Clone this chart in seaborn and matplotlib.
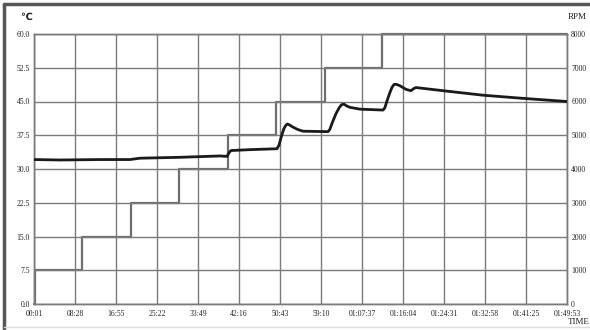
import numpy as np
import pandas as pd
import matplotlib.pyplot as plt
import matplotlib.lines as mlines
import seaborn as sns

# ------------------------------------------------------------------------------
# Data (time in seconds)
# ------------------------------------------------------------------------------
temp_time = [1, 323, 817, 1188, 1312, 1806, 2301, 2388, 2412, 2437, 2672, 3006,
             3031, 3060, 3090, 3115, 3135, 3160, 3204, 3260, 3328, 3637, 3660,
             3690, 3736, 3775, 3805, 3835, 3870, 3909, 4032, 4317, 4340, 4370,
             4403, 4430, 4455, 4485, 4527, 4601, 4663, 4700, 4725, 5059, 5553,
             6048, 6592]
temp_value = [32.1, 32.0, 32.1, 32.1, 32.4, 32.6, 32.9, 32.8, 33.6, 34.1, 34.3, 34.5,
              35.3, 37.2, 38.9, 39.7, 40.0, 39.8, 39.3, 38.8, 38.4, 38.3, 38.8,
              40.3, 42.3, 43.6, 44.3, 44.4, 44.0, 43.7, 43.3, 43.1, 43.6, 45.3,
              47.0, 48.2, 48.8, 48.8, 48.5, 47.7, 47.4, 47.9, 48.1, 47.4, 46.4,
              45.7, 45.0]

rpm_time = [1, 10, 600, 1200, 1800, 2400, 3000, 3600, 4310, 6592]
rpm_value = [0, 1000, 2000, 3000, 4000, 5000, 6000, 7000, 8000, 8000]

tick_labels = ["00:01", "08:28", "16:55", "25:22", "33:49", "42:16", "50:43",
               "59:10", "01:07:37", "01:16:04", "01:24:31", "01:32:58",
               "01:41:25", "01:49:53"]
temp_ticks = [0.0, 7.5, 15.0, 22.5, 30.0, 37.5, 45.0, 52.5, 60.0]
rpm_ticks = [0, 1000, 2000, 3000, 4000, 5000, 6000, 7000, 8000]

temp_df = pd.DataFrame({"time": temp_time, "temp": temp_value})
rpm_df = pd.DataFrame({"time": rpm_time, "rpm": rpm_value})

# ------------------------------------------------------------------------------
# Plot
# ------------------------------------------------------------------------------
sns.set_style("white")
plt.rcParams['font.family'] = ['Liberation Serif', 'DejaVu Sans']

fig = plt.figure(figsize=(5.9, 3.3), dpi=100)
ax = fig.add_axes([34 / 590, 26 / 330, 533 / 590, 270 / 330])
ax2 = ax.twinx()

grid_col = "#7a7a7a"
t0, t1 = 1, 6593
x_ticks = np.linspace(t0, t1, len(tick_labels))

ax.set_xlim(t0, t1)
ax.set_ylim(0, 60)
ax2.set_ylim(0, 8000)

ax.set_xticks(x_ticks)
ax.set_xticklabels(tick_labels)
ax.set_yticks(temp_ticks)
ax.set_yticklabels([f"{v:.1f}" for v in temp_ticks])
ax2.set_yticks(rpm_ticks)
ax2.set_yticklabels([str(v) for v in rpm_ticks])

ax.grid(True, color=grid_col, linewidth=1.0)
ax.set_axisbelow(True)
for a in (ax, ax2):
    for s in a.spines.values():
        s.set_color(grid_col)
        s.set_linewidth(1.0)
    a.tick_params(length=0, labelsize=5.5, colors="#222222", pad=3)
ax.tick_params(axis="x", pad=4)

sns.lineplot(data=rpm_df, x="time", y="rpm", ax=ax2, color="#6e6e6e",
             linewidth=1.6, drawstyle="steps-post", clip_on=False)
sns.lineplot(data=temp_df, x="time", y="temp", ax=ax, color="#1a1a1a",
             linewidth=2.0, zorder=5)
ax.set_zorder(ax2.get_zorder() + 1)
ax.patch.set_visible(False)

ax.set_xlabel("")
ax.set_ylabel("")
ax2.set_ylabel("")

fig.text(20 / 590, 1 - 17 / 330, "℃", fontsize=7, ha="left", va="center",
         family=["DejaVu Sans"], fontweight="bold", color="#222222")
fig.text(568 / 590, 1 - 17 / 330, "RPM", fontsize=6.5, ha="left", va="center",
         color="#222222")
fig.text(568 / 590, 1 - 322 / 330, "TIME", fontsize=6.5, ha="left", va="center",
         color="#222222")

# outer frame
fig.add_artist(mlines.Line2D([4 / 590, 1], [1 - 4 / 330, 1 - 4 / 330],
                             color="#555555", linewidth=2.5))
fig.add_artist(mlines.Line2D([4 / 590, 4 / 590], [1 - 4 / 330, 0],
                             color="#555555", linewidth=2.5))
fig.add_artist(mlines.Line2D([4 / 590, 1], [3 / 330, 3 / 330],
                             color="#dddddd", linewidth=1.0))

fig.savefig("out.png", dpi=100)
